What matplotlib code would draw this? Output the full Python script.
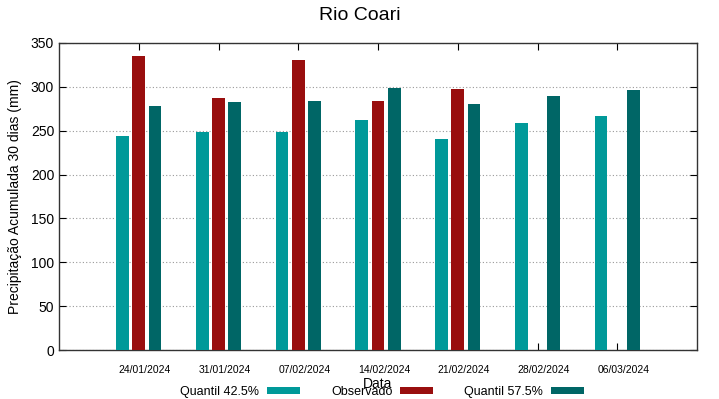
import numpy as np
import matplotlib
matplotlib.use("Agg")
import matplotlib.pyplot as plt
import matplotlib.transforms as mtransforms

plt.rcParams['font.family'] = ['Liberation Sans', 'DejaVu Sans']

dates = ["24/01/2024", "31/01/2024", "07/02/2024", "14/02/2024",
         "21/02/2024", "28/02/2024", "06/03/2024"]
q425 = [244, 249, 249, 262, 241, 259, 267]
observado = [335, 287, 331, 284, 298, np.nan, np.nan]
q575 = [278, 283, 284, 299, 280, 290, 296]

c_q425 = "#009999"
c_obs = "#990e0e"
c_q575 = "#006666"

fig = plt.figure(figsize=(7.19, 3.99), dpi=100)
ax = fig.add_axes([59/719, 49/399, (697-59)/719, (350-43)/399])

x = np.arange(len(dates))
w = 0.16
off = 0.205
ax.bar(x - off, q425, w, color=c_q425, label="Quantil 42.5%", zorder=3)
ax.bar(x, observado, w, color=c_obs, label="Observado", zorder=3)
ax.bar(x + off, q575, w, color=c_q575, label="Quantil 57.5%", zorder=3)

ax.set_xlim(-1, 7)
ax.set_ylim(0, 350)
ax.set_yticks(np.arange(0, 351, 50))
ax.set_xticks(x)
ax.set_xticklabels(dates, fontsize=7.5)
ax.tick_params(axis='y', labelsize=10, direction='in', right=True, length=5)
ax.tick_params(axis='x', direction='in', top=True, length=5, pad=11)
shift = mtransforms.ScaledTranslation(6/100, 0, fig.dpi_scale_trans)
for lab in ax.get_xticklabels():
    lab.set_transform(lab.get_transform() + shift)
ax.yaxis.grid(True, linestyle=(0, (1, 2)), color='#999999', linewidth=0.8, zorder=0)
for s in ax.spines.values():
    s.set_color('#333333')
    s.set_linewidth(1)

ax.set_ylabel("Precipitação Acumulada 30 dias (mm)", fontsize=10, labelpad=6)
ax.set_xlabel("Data", fontsize=10, labelpad=1)
fig.text(0.5, 1 - 15/399, "Rio Coari", ha='center', va='center', fontsize=14)

leg = ax.legend(loc='center', bbox_to_anchor=(382/719, 1 - 392/399),
                bbox_transform=fig.transFigure, ncol=3, frameon=False,
                markerfirst=False, fontsize=9, handlelength=2.64,
                handleheight=0.4, columnspacing=2.45, handletextpad=0.64)

fig.savefig("out.png", dpi=100)
